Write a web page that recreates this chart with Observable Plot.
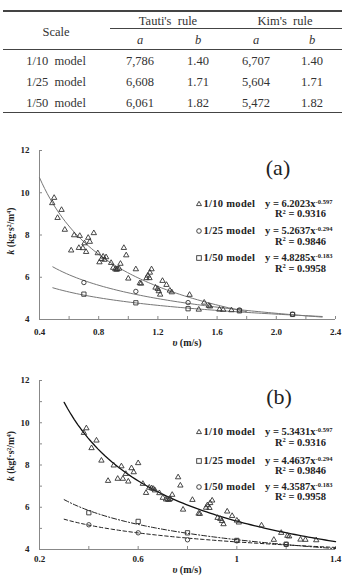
<!DOCTYPE html>
<html><head><meta charset="utf-8">
<script src="https://cdn.jsdelivr.net/npm/d3@7"></script>
<script src="https://cdn.jsdelivr.net/npm/@observablehq/plot@0.6"></script>
<style>
body{margin:0;background:#fff;}
#root{position:relative;width:344px;height:580px;overflow:hidden;font-family:"Liberation Serif","Times New Roman","DejaVu Serif",serif;color:#222;}
.abs{position:absolute;white-space:pre;line-height:1;}
.c{transform:translate(-50%,-50%);}
.l{transform:translate(0,-50%);}
.rot{transform:translate(-50%,-50%) rotate(-90deg);}
.hr{position:absolute;background:#444;}
.tbl{font-size:12.5px;color:#333;}
.leg{font-weight:bold;font-size:10.5px;color:#222;line-height:0.9;}
.ttl{font-weight:bold;font-size:10px;color:#222;}
sup{font-size:0.62em;vertical-align:0;position:relative;top:-0.5em;line-height:0;}
svg.plot{position:absolute;left:0;}
</style></head><body><div id="root"></div>
<script>
// ---------- table data ----------
const tableScales = ["1/10  model", "1/25  model", "1/50  model"];
const tautiA = ["7,786", "6,608", "6,061"];
const tautiB = ["1.40", "1.71", "1.82"];
const kimA = ["6,707", "5,604", "5,472"];
const kimB = ["1.40", "1.71", "1.82"];

// ---------- chart (a) data ----------
const models = ["1/10 model", "1/25 model", "1/50 model"];
const a10v = [0.499,0.486,0.549,0.522,0.571,0.634,0.672,0.767,0.729,0.740,0.704,0.614,0.666,0.693,0.715,0.794,0.970,0.986,0.830,0.850,0.819,0.839,0.805,0.884,0.947,0.898,0.912,0.920,0.926,0.938,1.051,1.000,1.078,1.086,1.157,1.146,1.132,1.123,1.143,1.231,1.258,1.184,1.199,1.206,1.215,1.281,1.294,1.414,1.513,1.544,1.552,1.476,1.616,1.641,1.697];
const a10k = [9.76,9.51,9.19,8.81,8.25,7.99,7.96,8.09,7.87,7.68,7.61,7.27,7.39,7.38,7.20,7.14,7.39,7.04,6.98,6.95,6.87,6.83,6.71,6.68,6.64,6.45,6.38,6.36,6.38,6.41,6.38,5.94,5.72,5.70,6.38,6.22,6.08,5.96,5.96,5.83,5.64,5.51,5.45,5.34,5.18,5.37,5.29,5.17,4.80,4.65,4.62,4.47,4.47,4.46,4.44];
const a25v = [0.70, 1.051, 1.404, 1.751, 2.11];
const a25k = [5.75, 5.33, 4.80, 4.45, 4.25];
const a50v = [0.70, 1.051, 1.404, 1.751, 2.11];
const a50k = [5.20, 4.79, 4.51, 4.41, 4.24];
const fitACoef = [6.2023, 5.2637, 4.8285];
const fitAExp = [-0.597, -0.294, -0.183];
const fitAFrom = [0.40, 0.49, 0.49];
const fitATo = [1.80, 2.31, 2.31];
const fitR2 = ["0.9316", "0.9846", "0.9958"];
const xTicksA = [0.4, 0.8, 1.2, 1.6, 2.0, 2.4];
const xMinorA = [0.4, 0.6, 0.8, 1.0, 1.2, 1.4, 1.6, 1.8, 2.0, 2.2, 2.4];
const yTicksA = [4, 6, 8, 10, 12];

// ---------- chart (b) data ----------
const b10v = [0.390,0.380,0.431,0.411,0.451,0.501,0.532,0.573,0.600,0.582,0.550,0.478,0.517,0.538,0.560,0.619,0.762,0.771,0.645,0.655,0.662,0.668,0.632,0.686,0.738,0.700,0.713,0.720,0.725,0.730,0.820,0.782,0.845,0.850,0.900,0.892,0.881,0.875,0.889,0.961,0.981,0.922,0.933,0.940,0.946,1.000,1.008,1.100,1.180,1.205,1.212,1.150,1.258,1.278,1.322];
const b10k = [9.74,9.52,9.16,8.80,8.21,7.98,7.94,7.85,8.09,7.66,7.58,7.25,7.35,7.35,7.22,7.11,7.42,7.03,6.93,6.90,6.87,6.80,6.68,6.67,6.59,6.45,6.37,6.37,6.35,6.40,6.35,5.89,5.70,5.69,6.32,6.20,6.10,5.98,5.97,5.80,5.59,5.50,5.45,5.35,5.20,5.37,5.28,5.14,4.79,4.65,4.62,4.46,4.47,4.46,4.44];
const b25v = [0.40, 0.60, 0.80, 1.00, 1.20];
const b25k = [5.74, 5.33, 4.79, 4.43, 4.25];
const b50v = [0.40, 0.60, 0.80, 1.00, 1.20];
const b50k = [5.17, 4.79, 4.46, 4.41, 4.24];
const fitBCoef = [5.3431, 4.4637, 4.3587];
const fitBExp = [-0.597, -0.294, -0.183];
const fitBFrom = [0.30, 0.30, 0.30];
const fitBTo = [1.40, 1.40, 1.40];
const xTicksB = [0.2, 0.6, 1, 1.4];
const xMinorB = [0.2, 0.4, 0.6, 0.8, 1.0, 1.2, 1.4];
const yTicksB = [4, 6, 8, 10, 12];
const yMinorB = [4, 5, 6, 7, 8, 9, 10, 11, 12];

// ---------- helpers ----------
const root = document.getElementById("root");
function put(html, x, y, cls, extra) {
  const d = document.createElement("div");
  d.className = "abs " + cls;
  d.style.left = x + "px"; d.style.top = y + "px";
  if (extra) d.style.cssText += extra;
  d.innerHTML = html;
  root.appendChild(d);
  return d;
}
function hline(x1, x2, y, w) {
  const d = document.createElement("div");
  d.className = "hr";
  d.style.left = x1 + "px"; d.style.width = (x2 - x1) + "px";
  d.style.top = (y - w / 2) + "px"; d.style.height = w + "px";
  root.appendChild(d);
}
const pts = (vs, ks) => vs.map((v, i) => ({v, k: ks[i]}));
function fitCurve(c, e, from, to) {
  // trendline drawn from the published power-law coefficients
  return d3.range(0, 81).map(i => {
    const v = from + (to - from) * i / 80;
    return {v, k: c * Math.pow(v, e)};
  });
}
const markerSvg = {
  triangle: '<path d="M0,-2.7L2.5,1.6L-2.5,1.6Z"/>',
  circle: '<circle r="2.3"/>',
  square: '<rect x="-2.3" y="-2.3" width="4.6" height="4.6"/>'
};

// ---------- table ----------
hline(3, 342, 11, 1.4);
hline(110, 342, 28.3, 1);
hline(3, 342, 49.3, 1);
hline(3, 342, 112.7, 1.4);
put("Scale", 56, 31.5, "c tbl");
put("Tauti's  rule", 168, 20.5, "c tbl");
put("Kim's  rule", 285, 20.5, "c tbl");
[["a",140],["b",198],["a",256],["b",312]].forEach(([t,x]) => put("<i>" + t + "</i>", x, 40, "c tbl"));
const rowY = [60.7, 81.7, 102.7];
tableScales.forEach((s, i) => {
  put(s, 56, rowY[i], "c tbl");
  put(tautiA[i], 140, rowY[i], "c tbl");
  put(tautiB[i], 198, rowY[i], "c tbl");
  put(kimA[i], 256, rowY[i], "c tbl");
  put(kimB[i], 312, rowY[i], "c tbl");
});

// ---------- charts ----------
function makeChart(cfg) {
  const axisCol = "#888";
  const marks = [
    Plot.ruleX([cfg.xDomain[0]], {stroke: axisCol, strokeWidth: 1}),
    Plot.ruleY([cfg.yDomain[0]], {stroke: axisCol, strokeWidth: 1}),
    Plot.ruleY(cfg.yMinor, {y: d => d, x1: cfg.xDomain[0], x2: cfg.xDomain[0], insetRight: -3, stroke: axisCol}),
    Plot.ruleX(cfg.xMinor, {x: d => d, y1: cfg.yDomain[0], y2: cfg.yDomain[0], insetTop: -3, stroke: axisCol}),
    ...cfg.curves.map(c => Plot.line(c.data, {x: "v", y: "k", stroke: c.stroke, strokeWidth: c.width, strokeDasharray: c.dash, curve: "linear"})),
    ...cfg.series.map(s => Plot.dot(s.data, {x: "v", y: "k", symbol: s.symbol, r: s.r, stroke: "#333", fill: "none", strokeWidth: 0.9}))
  ];
  const svg = Plot.plot({
    width: 344, height: cfg.height,
    marginLeft: 39, marginRight: 9, marginTop: cfg.marginTop, marginBottom: cfg.marginBottom,
    style: {fontFamily: "'Liberation Serif', 'Times New Roman', 'DejaVu Serif', serif", fontWeight: "bold", fontSize: "9px", color: "#222", background: "transparent", overflow: "visible"},
    x: {domain: cfg.xDomain, ticks: cfg.xTicks, tickFormat: cfg.xFormat, tickSize: 0, tickPadding: cfg.xPad, label: null},
    y: {domain: cfg.yDomain, ticks: cfg.yTicks, tickSize: 0, tickPadding: 10, label: null},
    marks
  });
  svg.classList.add("plot");
  svg.style.top = cfg.top + "px";
  root.appendChild(svg);
}
const symR = {triangle: 2.0, circle: 2.2, square: 2.4};

makeChart({
  top: 130, height: 225, marginTop: 20, marginBottom: 36, xPad: 9,
  xDomain: [0.4, 2.4], yDomain: [4, 12],
  xTicks: xTicksA, xMinor: xMinorA, yTicks: yTicksA, yMinor: yTicksA,
  xFormat: d3.format(".1f"),
  curves: fitACoef.map((c, i) => ({data: fitCurve(c, fitAExp[i], fitAFrom[i], fitATo[i]), stroke: "#777", width: 1, dash: null})),
  series: [
    {data: pts(a10v, a10k), symbol: "triangle", r: symR.triangle},
    {data: pts(a25v, a25k), symbol: "circle", r: symR.circle},
    {data: pts(a50v, a50k), symbol: "square", r: symR.square}
  ]
});

makeChart({
  top: 360, height: 215, marginTop: 20, marginBottom: 26, xPad: 6.5,
  xDomain: [0.2, 1.4], yDomain: [4, 12],
  xTicks: xTicksB, xMinor: xMinorB, yTicks: yTicksB, yMinor: yMinorB,
  xFormat: d => String(d),
  curves: [
    {data: fitCurve(fitBCoef[0], fitBExp[0], fitBFrom[0], fitBTo[0]), stroke: "#111", width: 1.3, dash: null},
    {data: fitCurve(fitBCoef[1], fitBExp[1], fitBFrom[1], fitBTo[1]), stroke: "#222", width: 1, dash: "5,2,1.2,2"},
    {data: fitCurve(fitBCoef[2], fitBExp[2], fitBFrom[2], fitBTo[2]), stroke: "#222", width: 1, dash: "3.5,2.5"}
  ],
  series: [
    {data: pts(b10v, b10k), symbol: "triangle", r: symR.triangle},
    {data: pts(b25v, b25k), symbol: "square", r: symR.square},
    {data: pts(b50v, b50k), symbol: "circle", r: symR.circle}
  ]
});

// ---------- titles, panel labels, legends ----------
put("<i>υ</i> (m/s)", 187, 343, "c ttl");
put("<i>υ</i> (m/s)", 187, 570, "c ttl");
put("<i>k</i> (kg·s<sup>2</sup>/m<sup>4</sup>)", 12, 231, "rot ttl", "font-size:9.5px");
put("<i>k</i> (kgf·s<sup>2</sup>/m<sup>4</sup>)", 12, 456, "rot ttl", "font-size:9.5px");
put("(a)", 278, 168, "c", "font-size:22px;color:#222");
put("(b)", 279, 397, "c", "font-size:22px;color:#222");

function legend(symbols, coefs, exps, rows, r2rows) {
  symbols.forEach((s, i) => {
    put('<svg width="8" height="8" viewBox="-4 -4 8 8" style="display:block"><g fill="none" stroke="#333" stroke-width="0.9">' + markerSvg[s] + '</g></svg>', 199, rows[i], "c", "line-height:0");
    put(models[i], 203.5, rows[i], "l leg", "letter-spacing:0.3px");
    put("y = " + coefs[i].toFixed(4) + "x<sup>" + exps[i].toFixed(3) + "</sup>", 265, rows[i], "l leg");
    put("R<sup>2</sup> = " + fitR2[i], 275, r2rows[i], "l leg");
  });
}
legend(["triangle", "circle", "square"], fitACoef, fitAExp, [204, 231, 258], [214, 241.5, 268.5]);
legend(["triangle", "square", "circle"], fitBCoef, fitBExp, [432.3, 461, 487], [442.5, 471, 497]);
</script></body></html>
